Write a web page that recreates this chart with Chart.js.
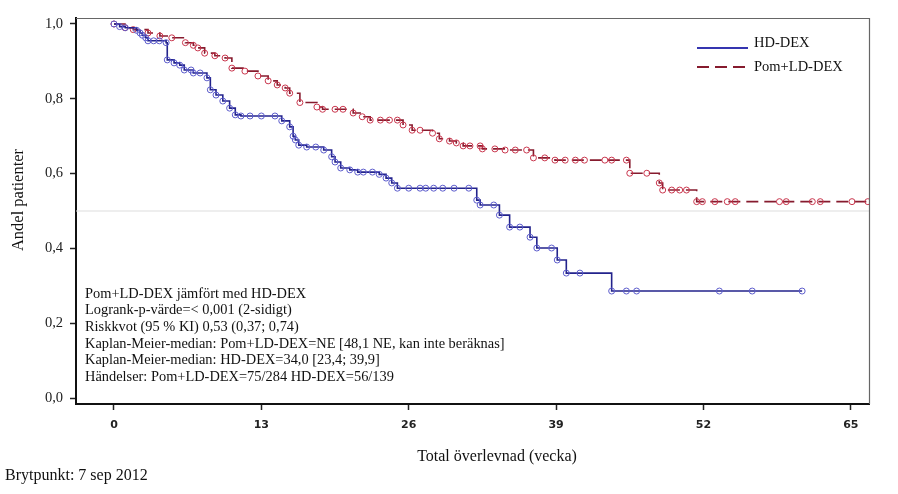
<!DOCTYPE html>
<html><head><meta charset="utf-8">
<script src="https://cdn.jsdelivr.net/npm/chart.js@4.4.1/dist/chart.umd.min.js"></script>
<style>html,body{margin:0;padding:0;background:#fff;} #wrap{width:898px;height:494px;position:relative;}</style>
</head><body><div id="wrap"><canvas id="c" width="898" height="494"></canvas></div>
<script>
// ---- data ----
const xTickValues = [0, 13, 26, 39, 52, 65];
const yTickValues = [0, 0.2, 0.4, 0.6, 0.8, 1.0];
const seriesNames = ['HD-DEX', 'Pom+LD-DEX'];

const hdWeeks = [0, 0.5, 1.0, 2.0, 2.3, 2.5, 2.8, 3.0, 3.5, 4.0, 4.6, 4.7, 5.3, 5.8, 6.2, 6.8, 7.0, 7.6, 8.2, 8.5,
  9.0, 9.6, 10.2, 10.7, 11.2, 12.0, 13.0, 14.2, 14.8, 15.5, 15.8, 16.0, 16.3, 17.0, 17.8, 18.5, 19.2, 19.5, 20.0, 20.8,
  21.5, 22.0, 22.8, 23.4, 24.0, 24.5, 25.0, 26.0, 27.0, 27.5, 28.2, 29.0, 30.0, 31.3, 32.0, 32.3, 33.5, 34.0, 34.9, 35.8,
  36.7, 37.3, 38.6, 39.1, 39.9, 41.1, 43.9, 45.2, 46.1, 53.4, 56.3, 60.7];
const hdSurv = [1.0, 0.993, 0.99, 0.983, 0.976, 0.97, 0.963, 0.955, 0.955, 0.955, 0.95, 0.904, 0.896, 0.89, 0.877, 0.877, 0.869, 0.869, 0.856, 0.824,
  0.81, 0.794, 0.775, 0.757, 0.754, 0.754, 0.754, 0.754, 0.741, 0.725, 0.70, 0.69, 0.676, 0.671, 0.671, 0.663, 0.645, 0.631, 0.615, 0.61,
  0.604, 0.604, 0.604, 0.598, 0.588, 0.575, 0.561, 0.561, 0.561, 0.561, 0.561, 0.561, 0.561, 0.561, 0.529, 0.516, 0.516, 0.489, 0.457, 0.457,
  0.43, 0.401, 0.401, 0.369, 0.334, 0.334, 0.286, 0.286, 0.286, 0.286, 0.286, 0.286];

const pomWeeks = [0, 0.97, 1.7, 3.0, 4.05, 5.1, 6.3, 7.0, 7.4, 8.0, 8.9, 9.8, 10.4, 11.55, 12.7, 13.6, 14.4, 15.1, 15.5, 16.4,
  17.9, 18.4, 19.5, 20.2, 21.1, 21.9, 22.6, 23.5, 24.3, 25.0, 25.5, 26.3, 27.0, 28.1, 28.7, 29.6, 30.2, 30.8, 31.4, 32.3,
  32.5, 33.6, 34.5, 35.4, 36.4, 37.0, 38.0, 38.9, 39.8, 40.7, 41.5, 43.3, 43.9, 45.2, 45.5, 47.0, 48.1, 48.4, 49.2, 49.9,
  50.5, 51.4, 51.9, 53.0, 54.1, 54.8, 58.7, 59.3, 61.6, 62.3, 65.1, 66.5];
const pomSurv = [1.0, 0.99, 0.985, 0.976, 0.968, 0.963, 0.95, 0.943, 0.936, 0.922, 0.915, 0.909, 0.882, 0.874, 0.861, 0.848, 0.837, 0.829, 0.815, 0.79,
  0.778, 0.772, 0.772, 0.772, 0.762, 0.752, 0.743, 0.743, 0.743, 0.743, 0.73, 0.716, 0.716, 0.708, 0.693, 0.687, 0.682, 0.674, 0.674, 0.674,
  0.666, 0.666, 0.663, 0.663, 0.663, 0.642, 0.642, 0.636, 0.636, 0.636, 0.636, 0.636, 0.636, 0.636, 0.601, 0.601, 0.575, 0.556, 0.556, 0.556,
  0.556, 0.525, 0.525, 0.525, 0.525, 0.525, 0.525, 0.525, 0.525, 0.525, 0.525, 0.525];

const infoLines = [
  'Pom+LD-DEX jämfört med HD-DEX',
  'Logrank-p-värde=< 0,001 (2-sidigt)',
  'Riskkvot (95 % KI) 0,53 (0,37; 0,74)',
  'Kaplan-Meier-median: Pom+LD-DEX=NE [48,1 NE, kan inte beräknas]',
  'Kaplan-Meier-median: HD-DEX=34,0 [23,4; 39,9]',
  'Händelser: Pom+LD-DEX=75/284 HD-DEX=56/139'
];
const medianLine = 0.5;
const xTitle = 'Total överlevnad (vecka)';
const yTitle = 'Andel patienter';
const footnote = 'Brytpunkt: 7 sep 2012';

// ---- styles ----
const HD_LINE = '#23238c', HD_PT = '#5d5dcc';
const POM_LINE = '#861b2e', POM_PT = '#c9364d';
const SERIF = '"Liberation Serif", "Times New Roman", serif';

const toXY = (xs, ys) => xs.map((x, i) => ({ x: x, y: ys[i] }));

const decor = {
  id: 'decor',
  beforeDatasetsDraw(chart) {
    const { ctx, chartArea: a, scales: { y } } = chart;
    const py = y.getPixelForValue(medianLine);
    ctx.save();
    ctx.strokeStyle = '#dddddd';
    ctx.lineWidth = 1;
    ctx.beginPath(); ctx.moveTo(a.left, py); ctx.lineTo(a.right, py); ctx.stroke();
    ctx.restore();
  },
  afterDraw(chart) {
    const { ctx, chartArea: a } = chart;
    ctx.save();
    // top & right frame
    ctx.strokeStyle = '#666';
    ctx.lineWidth = 1.2;
    ctx.beginPath();
    ctx.moveTo(a.left, a.top + 0.5); ctx.lineTo(a.right + 0.5, a.top + 0.5); ctx.lineTo(a.right + 0.5, a.bottom);
    ctx.stroke();
    // legend
    ctx.lineWidth = 2;
    ctx.strokeStyle = '#3535b0';
    ctx.beginPath(); ctx.moveTo(697, 48); ctx.lineTo(748, 48); ctx.stroke();
    ctx.strokeStyle = POM_LINE;
    ctx.setLineDash([12, 6]);
    ctx.beginPath(); ctx.moveTo(697, 67); ctx.lineTo(748, 67); ctx.stroke();
    ctx.setLineDash([]);
    ctx.fillStyle = '#111';
    ctx.font = '14.5px ' + SERIF;
    ctx.textAlign = 'left'; ctx.textBaseline = 'middle';
    ctx.fillText(seriesNames[0], 754, 43);
    ctx.fillText(seriesNames[1], 754, 67);
    // info block
    ctx.font = '14.4px ' + SERIF;
    infoLines.forEach((t, i) => ctx.fillText(t, 85, 294 + i * 16.6));
    // axis titles
    ctx.font = '16px ' + SERIF;
    ctx.textAlign = 'center';
    ctx.fillText(xTitle, 497, 457);
    ctx.save();
    ctx.font = '16.5px ' + SERIF;
    ctx.translate(19, 200); ctx.rotate(-Math.PI / 2);
    ctx.fillText(yTitle, 0, 0);
    ctx.restore();
    // footnote
    ctx.font = '16px ' + SERIF;
    ctx.textAlign = 'left';
    ctx.fillText(footnote, 5, 476);
    ctx.restore();
  }
};

new Chart(document.getElementById('c'), {
  type: 'scatter',
  data: {
    datasets: [
      {
        label: seriesNames[0], data: toXY(hdWeeks, hdSurv), showLine: true, stepped: true,
        borderColor: HD_LINE, borderWidth: 1.6, pointRadius: 3, pointStyle: 'circle',
        pointBorderColor: HD_PT, pointBackgroundColor: 'rgba(0,0,0,0)', pointBorderWidth: 1
      },
      {
        label: seriesNames[1], data: toXY(pomWeeks, pomSurv), showLine: true, stepped: true,
        borderColor: POM_LINE, borderWidth: 1.6, borderDash: [12, 6], pointRadius: 3, pointStyle: 'circle',
        pointBorderColor: POM_PT, pointBackgroundColor: 'rgba(0,0,0,0)', pointBorderWidth: 1
      }
    ]
  },
  options: {
    responsive: false, animation: false, devicePixelRatio: 1,
    layout: { padding: { top: 18, right: 29, left: 0, bottom: 0 } },
    plugins: { legend: { display: false }, tooltip: { enabled: false } },
    scales: {
      x: {
        type: 'linear', min: -3.35, max: 66.6,
        afterBuildTicks: s => { s.ticks = xTickValues.map(v => ({ value: v })); },
        afterFit: s => { s.height = 90; },
        ticks: { color: '#222', padding: 9, font: { family: '"DejaVu Sans", sans-serif', size: 11, weight: 'bold' }, callback: v => String(v) },
        grid: { drawOnChartArea: false, drawTicks: true, tickLength: 6, tickColor: '#222', tickWidth: 1.5 },
        border: { display: true, color: '#111', width: 2 }
      },
      y: {
        type: 'linear', min: -0.016, max: 1.016,
        afterBuildTicks: s => { s.ticks = yTickValues.map(v => ({ value: v })); },
        afterFit: s => { s.width = 76; },
        ticks: { color: '#222', padding: 7, font: { family: SERIF, size: 14.5 }, callback: v => v.toFixed(1).replace('.', ',') },
        grid: { drawOnChartArea: false, drawTicks: true, tickLength: 6, tickColor: '#222', tickWidth: 1.5 },
        border: { display: true, color: '#111', width: 2 }
      }
    }
  },
  plugins: [decor]
});
</script></body></html>
